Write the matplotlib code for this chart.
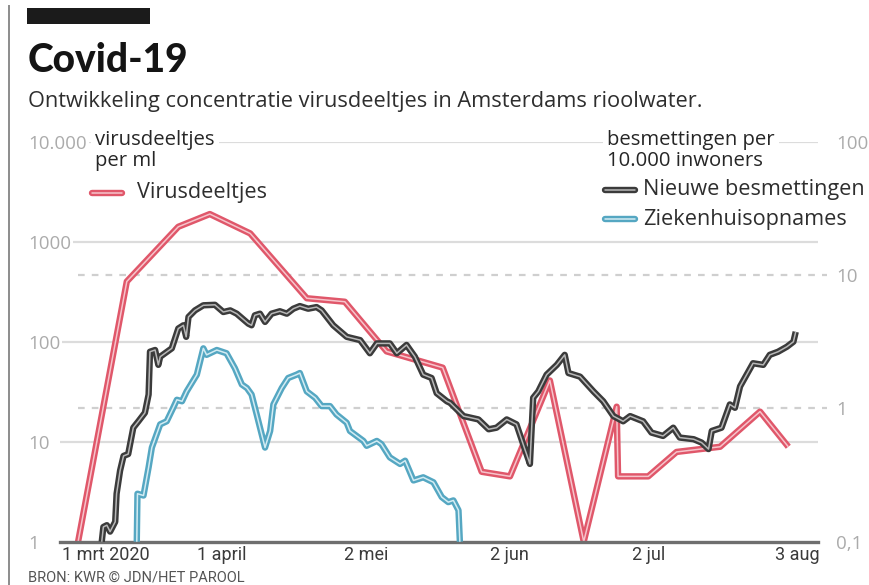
"""
Covid-19: concentratie virusdeeltjes in het Amsterdamse rioolwater,
met nieuwe besmettingen en ziekenhuisopnames op de rechteras.
"""

import matplotlib
matplotlib.use("Agg")
import matplotlib.pyplot as plt
import matplotlib.patheffects as pe
from matplotlib.lines import Line2D
from matplotlib.patches import Rectangle
from matplotlib.transforms import ScaledTranslation, blended_transform_factory

# =========================================================
# DATA (dagen sinds 1 maart 2020)
# =========================================================

RED_DAY = [0, 10.5, 21.6, 28.4, 37.1, 49.3, 57.5, 66.5, 78.6, 87.0,
           93.1, 101.7, 109.0, 116.1, 116.4, 122.9, 129.0, 138.4, 147.0, 153.1]
RED_VAL = [1, 400, 1410, 1890, 1210, 272, 251, 80, 55, 5.0,
           4.5, 41, 1, 22.4, 4.5, 4.5, 7.9, 8.9, 20, 8.9]

BLACK_DAY = [5.1, 5.45, 6.2, 6.9, 8.0, 8.3, 9.05, 9.8, 10.8, 11.9,
             13.0, 14.4, 15.2, 15.5, 16.6, 17.3, 17.7, 20.2, 21.6, 22.7,
             23.3, 23.8, 25.2, 27.0, 29.5, 31.3, 32.8, 34.2, 36.7, 37.4,
             38.1, 39.2, 40.3, 41.7, 43.5, 45.0, 46.4, 47.8, 49.6, 51.4,
             52.5, 55.0, 57.9, 60.8, 62.9, 64.4, 67.2, 68.7, 70.8, 72.6,
             74.4, 76.2, 77.3, 79.5, 80.2, 83.1, 86.3, 88.5, 90.2, 92.4,
             94.5, 96.3, 97.4, 98.1, 99.2, 101.0, 103.2, 104.9, 105.7, 108.2,
             111.1, 113.2, 115.4, 117.5, 119.0, 121.8, 123.6, 126.1, 128.3, 129.7,
             132.7, 134.4, 135.9, 136.6, 138.7, 140.5, 141.6, 142.7, 145.5, 147.7,
             149.1, 150.9, 152.8, 154.2, 154.7]
BLACK_VAL = [0.1, 0.129, 0.133, 0.119, 0.141, 0.229, 0.341, 0.44, 0.454, 0.716,
             0.80, 0.926, 1.27, 2.66, 2.74, 2.12, 2.44, 2.82, 3.97, 4.2,
             3.44, 4.85, 5.43, 5.93, 5.98, 5.28, 5.43, 5.13, 4.32, 4.2,
             4.99, 5.13, 4.45, 5.13, 5.35, 5.13, 5.59, 5.85, 5.59, 5.75,
             5.43, 4.2, 3.44, 3.25, 2.59, 3.07, 3.07, 2.59, 2.99, 2.44,
             1.79, 1.69, 1.30, 1.13, 1.10, 0.875, 0.826, 0.697, 0.716, 0.826,
             0.759, 0.495, 0.383, 1.2, 1.34, 1.79, 2.12, 2.52, 1.84, 1.73,
             1.34, 1.13, 0.875, 0.80, 0.875, 0.80, 0.658, 0.621, 0.716, 0.604,
             0.587, 0.554, 0.495, 0.677, 0.716, 1.07, 1.01, 1.46, 2.18, 2.12,
             2.52, 2.66, 2.9, 3.16, 3.75]

BLUE_DAY = [12.65, 12.8, 14.1, 15.2, 15.9, 17.7, 19.1, 20.5, 21.3, 22.4,
            23.4, 25.6, 27.0, 27.7, 29.9, 32.0, 33.8, 35.3, 36.4, 37.4,
            38.5, 40.3, 41.4, 42.1, 43.9, 45.3, 47.1, 47.8, 49.3, 51.1,
            52.5, 54.3, 55.7, 57.9, 58.6, 61.5, 62.2, 64.4, 65.4, 67.2,
            69.4, 70.5, 72.3, 74.4, 76.6, 78.4, 79.8, 80.9, 82.0, 82.3]
BLUE_VAL = [0.1, 0.229, 0.222, 0.361, 0.508, 0.759, 0.80, 1.01, 1.16, 1.13,
            1.34, 1.79, 2.82, 2.52, 2.74, 2.59, 2.0, 1.51, 1.42, 1.27,
            0.90, 0.508, 0.677, 1.07, 1.42, 1.69, 1.79, 1.84, 1.34, 1.2,
            1.04, 1.04, 0.90, 0.78, 0.677, 0.57, 0.524, 0.57, 0.539, 0.429,
            0.383, 0.405, 0.288, 0.304, 0.279, 0.216, 0.198, 0.204, 0.172, 0.1]

X_TICKS = [0, 31, 62, 93, 123, 155]
X_LABELS = ["1 mrt 2020", "1 april", "2 mei", "2 jun", "2 jul", "3 aug"]
LEFT_TICKS = [1, 10, 100, 1000, 10000]
LEFT_LABELS = ["1", "10", "100", "1000", "10.000"]
RIGHT_TICKS = [0.1, 1, 10, 100]
RIGHT_LABELS = ["0,1", "1", "10", "100"]

# =========================================================
# STIJL
# =========================================================

W, H = 869, 585
BODY = ["Open Sans", "DejaVu Sans"]
TITLE = ["Lato", "DejaVu Sans"]
NARROW = ["Liberation Sans Narrow", "Roboto", "DejaVu Sans"]
GRID = "#dcdcdc"
TICK_GREY = "#ababab"
TEXT = "#2e2e2e"

RED = ("#e0576a", "#f6c4cb")
BLACK = ("#3b3b3b", "#b8b8b8")
BLUE = ("#55a7c2", "#d3ecf3")


def fx(px):
    return px / W


def fy(py):
    return 1 - py / H


def double_line(ax, x, y, colors, lw_out=4.6, lw_in=1.1, **kw):
    outer, inner = colors
    return ax.plot(x, y, color=inner, lw=lw_in, solid_joinstyle="round",
                   solid_capstyle="butt",
                   path_effects=[pe.Stroke(linewidth=lw_out, foreground=outer,
                                           joinstyle="round", capstyle="butt"),
                                 pe.Normal()], **kw)


fig = plt.figure(figsize=(W / 100, H / 100), dpi=100)
ax = fig.add_axes([fx(60), fy(541.7), fx(818) - fx(60), (541.7 - 141.7) / H])
ax2 = ax.twinx()

ax.set_yscale("log")
ax2.set_yscale("log")
ax.set_ylim(1, 10000)
ax2.set_ylim(0.1, 100)
ax.set_xlim(-3.9, 159.5)

for a in (ax, ax2):
    for s in a.spines.values():
        s.set_visible(False)
    a.minorticks_off()
ax.spines["bottom"].set_visible(True)
ax.spines["bottom"].set_color("#6e6e6e")
ax.spines["bottom"].set_linewidth(2.4)
ax.spines["bottom"].set_zorder(5)

# rasterlijnen: doorgetrokken voor links, gestreept voor rechts
for v in LEFT_TICKS[1:]:
    ax.axhline(v, color=GRID, lw=1.6, zorder=0.5)
dash_tr = blended_transform_factory(ax.transAxes, ax2.transData)
for v in RIGHT_TICKS[1:3]:
    ax.plot([0.024, 1.012], [v, v], color="#cfcfcf", lw=1.6, ls=(0, (3, 3.2)),
            transform=dash_tr, zorder=0.5, clip_on=False)

# lijnen
double_line(ax, RED_DAY, RED_VAL, RED, zorder=3)
double_line(ax2, BLUE_DAY, BLUE_VAL, BLUE, zorder=3)
double_line(ax2, BLACK_DAY, BLACK_VAL, BLACK, zorder=4)

# assen
ax.set_xticks(X_TICKS)
ax.set_xticklabels(X_LABELS, fontfamily=NARROW, fontsize=13, color="#3a3a3a")
ax.tick_params(axis="x", length=0, pad=3)
first = ax.xaxis.get_majorticklabels()[0]
first.set_transform(first.get_transform()
                    + ScaledTranslation(28 / 100, 0, fig.dpi_scale_trans))

ax.set_yticks(LEFT_TICKS)
ax.set_yticklabels(LEFT_LABELS, fontfamily=BODY, fontsize=13.5, color=TICK_GREY)
ax.tick_params(axis="y", length=0, pad=32 * 0.72)
for lbl in ax.get_yticklabels():
    lbl.set_ha("left")
    lbl.set_bbox(dict(facecolor="white", edgecolor="none", pad=1.5))

ax2.set_yticks(RIGHT_TICKS)
ax2.set_yticklabels(RIGHT_LABELS, fontfamily=BODY, fontsize=13.5, color=TICK_GREY)
ax2.tick_params(axis="y", length=0, pad=18 * 0.72)

# kop
fig.patches.append(Rectangle((fx(27), fy(24)), fx(150) - fx(27), (24 - 8) / H,
                             transform=fig.transFigure, facecolor="#1b1b1b",
                             edgecolor="none"))
fig.lines.append(Line2D([fx(9), fx(9)], [fy(6), 0], transform=fig.transFigure,
                        color="#8c8c8c", lw=1.4))
fig.text(fx(28), fy(72), "Covid-19", fontfamily=TITLE, fontweight="black",
         fontsize=28, color="#141414", va="baseline")
fig.text(fx(28), fy(101), "Ontwikkeling concentratie virusdeeltjes in Amsterdams rioolwater.",
         fontfamily=BODY, fontsize=15.7, color=TEXT, va="center")

box = dict(facecolor="white", edgecolor="none", pad=3)
head = dict(fontfamily=BODY, fontsize=14.6, fontweight="medium", color="#262626",
            va="center", zorder=6)
fig.text(fx(95), fy(140), "virusdeeltjes", bbox=box, **head)
fig.text(fx(95), fy(161), "per ml", **head)
fig.text(fx(607), fy(140), "besmettingen per", bbox=box, **head)
fig.text(fx(607), fy(161), "10.000 inwoners", **head)

legend_items = [(92, 137, 193, "Virusdeeltjes", RED),
                (605, 643, 190, "Nieuwe besmettingen", BLACK),
                (605, 643, 219, "Ziekenhuisopnames", BLUE)]
for x0, xt, y, label, colors in legend_items:
    line = Line2D([fx(x0), fx(x0 + 30)], [fy(y), fy(y)], transform=fig.transFigure,
                  color=colors[1], lw=1.1, solid_capstyle="round",
                  path_effects=[pe.Stroke(linewidth=4.6, foreground=colors[0],
                                          capstyle="round"), pe.Normal()])
    fig.lines.append(line)
    fig.text(fx(xt), fy(y), label, fontfamily=BODY, fontsize=15.6, color=TEXT,
             va="center")

fig.text(fx(28), fy(577), "BRON: KWR © JDN/HET PAROOL", fontfamily=NARROW,
         fontsize=10.5, color="#555555", va="center")

fig.savefig("out.png", dpi=100)
